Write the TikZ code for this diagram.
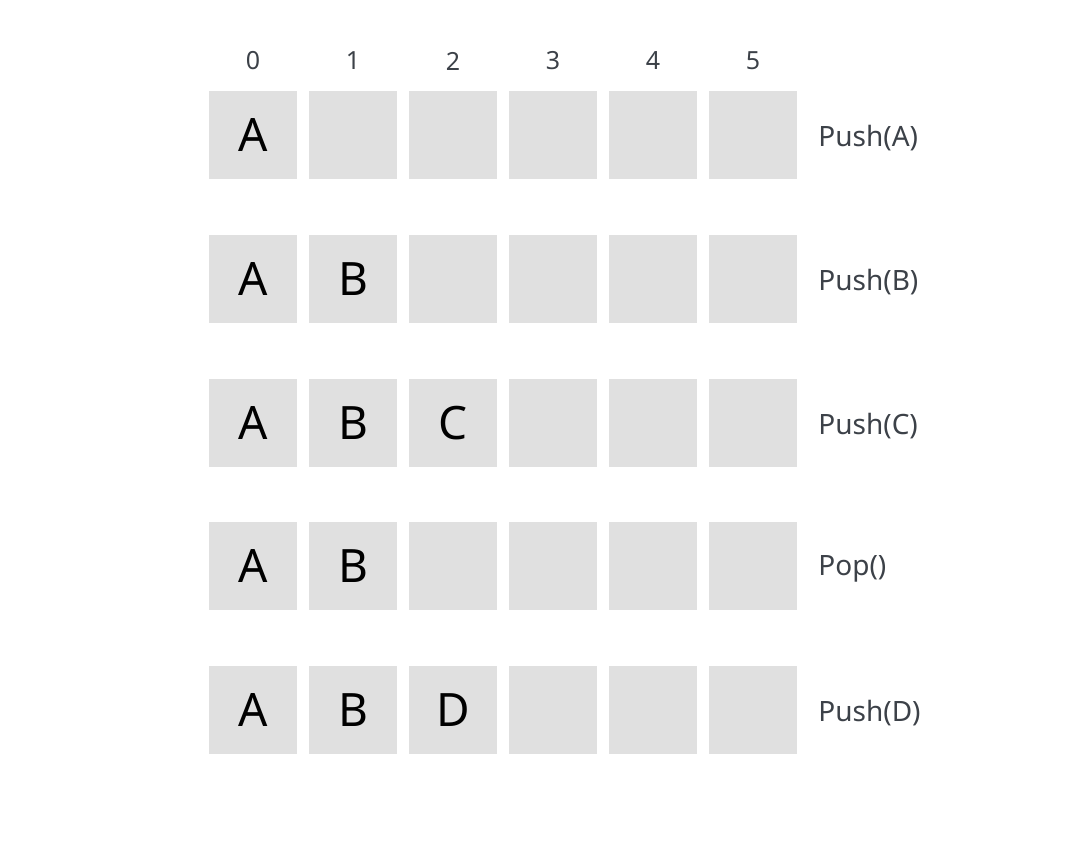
\documentclass[tikz,border=0pt]{standalone}
\usepackage{fontspec}
\setmainfont{Noto Sans}
\usepackage{xcolor}
\usepackage{tikz}
\definecolor{cellgray}{HTML}{E0E0E0}
\definecolor{labelgray}{HTML}{3C4148}

\begin{document}
\begin{tikzpicture}[x=0.5pt, y=-0.5pt, node distance=50pt,
  cell/.style={rectangle, fill=cellgray, minimum width=44pt, minimum height=44pt, inner sep=0pt, text=black, font=\fontsize{23}{27}\selectfont},
  idx/.style={text=labelgray, font=\fontsize{12.5}{15}\selectfont},
  op/.style={anchor=west, inner sep=0pt, text=labelgray, font=\fontsize{14}{17}\selectfont}]
 \useasboundingbox (0,0) rectangle (1068,862);
 % row 1
 \node [cell] (c10) at (253,135) {A};
 \node [cell, right of=c10] (c11) {};
 \node [cell, right of=c11] (c12) {};
 \node [cell, right of=c12] (c13) {};
 \node [cell, right of=c13] (c14) {};
 \node [cell, right of=c14] (c15) {};
 % row 2
 \node [cell] (c20) at (253,279) {A};
 \node [cell, right of=c20] (c21) {B};
 \node [cell, right of=c21] (c22) {};
 \node [cell, right of=c22] (c23) {};
 \node [cell, right of=c23] (c24) {};
 \node [cell, right of=c24] (c25) {};
 % row 3
 \node [cell] (c30) at (253,423) {A};
 \node [cell, right of=c30] (c31) {B};
 \node [cell, right of=c31] (c32) {C};
 \node [cell, right of=c32] (c33) {};
 \node [cell, right of=c33] (c34) {};
 \node [cell, right of=c34] (c35) {};
 % row 4
 \node [cell] (c40) at (253,566) {A};
 \node [cell, right of=c40] (c41) {B};
 \node [cell, right of=c41] (c42) {};
 \node [cell, right of=c42] (c43) {};
 \node [cell, right of=c43] (c44) {};
 \node [cell, right of=c44] (c45) {};
 % row 5
 \node [cell] (c50) at (253,710) {A};
 \node [cell, right of=c50] (c51) {B};
 \node [cell, right of=c51] (c52) {D};
 \node [cell, right of=c52] (c53) {};
 \node [cell, right of=c53] (c54) {};
 \node [cell, right of=c54] (c55) {};
 % indices
 \node [idx] (i0) at (253,61) {0};
 \node [idx, right of=i0] (i1) {1};
 \node [idx, right of=i1] (i2) {2};
 \node [idx, right of=i2] (i3) {3};
 \node [idx, right of=i3] (i4) {4};
 \node [idx, right of=i4] (i5) {5};
 % operations
 \node [op] (op1) at (818,138) {Push(A)};
 \node [op] (op2) at (818,282) {Push(B)};
 \node [op] (op3) at (818,426) {Push(C)};
 \node [op] (op4) at (818,569) {Pop()};
 \node [op] (op5) at (818,713) {Push(D)};
\end{tikzpicture}
\end{document}
